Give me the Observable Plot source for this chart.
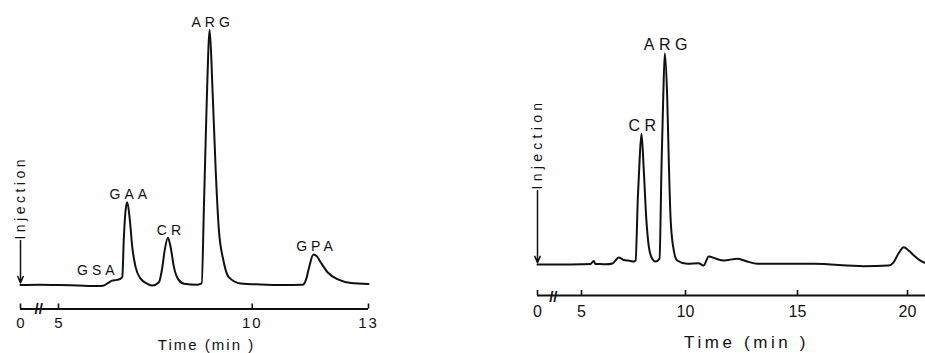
<!DOCTYPE html>
<html>
<head>
<meta charset="utf-8">
<script src="https://cdn.jsdelivr.net/npm/d3@7"></script>
<script src="https://cdn.jsdelivr.net/npm/@observablehq/plot@0.6"></script>
<style>
  html, body { margin: 0; padding: 0; background: #fff; }
  #wrap { position: relative; width: 925px; height: 353px; overflow: hidden; background: #fff; }
  #left { position: absolute; left: 0; top: 0; }
  #right { position: absolute; left: 520px; top: 0; }
  svg { font-family: "Liberation Sans", Arial, Helvetica, sans-serif; }
</style>
</head>
<body>
<div id="wrap"><div id="left"></div><div id="right"></div></div>
<script>
// ---------- Left chromatogram (standards) ----------
const leftTime = [0, 2.5, 5.0, 5.5, 6.0, 6.15, 6.3, 6.38, 6.5, 6.58, 6.646, 6.687, 6.731, 6.775, 6.842, 6.904, 6.99, 7.119, 7.292, 7.421,
  7.592, 7.68, 7.739, 7.824, 7.894, 7.979, 8.083, 8.238, 8.584, 8.695, 8.755, 8.824, 8.902, 8.972, 9.057, 9.134, 9.256, 9.393, 9.703,
  10.22, 10.74, 11.30, 11.39, 11.46, 11.58, 11.67, 11.77, 11.95, 12.21, 12.55, 13.0];
const leftSignal = [0, 0.1, 0, -0.2, -0.4, -0.3, 1.0, 1.7, 2.0, 2.3, 3.1, 18.7, 29.2, 32.4, 25.3, 14.8, 7.0, 2.5, 0.5, -0.2,
  1.1, 7.0, 13.5, 18.5, 14.8, 7.0, 2.4, 0.5, 0.1, 0.6, 31.9, 71.1, 100, 77.5, 44.9, 22.5, 9.6, 3.1, 0.6,
  0.2, 0, 0.1, 2.2, 6.5, 12.0, 11.2, 8.8, 4.9, 2.2, 0.8, 0.4];
const leftPeakNames = ["GAA", "CR", "ARG", "GPA"];
const leftPeakTimes = [6.775, 7.824, 8.902, 11.58];
const leftPeakHeights = [32.4, 18.5, 100, 12.0];
const leftShoulderName = ["GSA"];
const leftShoulderTime = [6.5];
const leftShoulderHeight = [2.0];
const leftTicks = [0, 5, 10, 13];
const leftBreak = [2.4];

// ---------- Right chromatogram (sample) ----------
const rightTime = [0, 2.5, 5.0, 5.43, 5.59, 5.67, 5.91, 6.15, 6.49, 6.79, 6.92, 7.03, 7.36, 7.51, 7.6, 7.71, 7.80, 7.885, 7.995, 8.11,
  8.24, 8.40, 8.56, 8.75, 8.85, 8.93, 9.005, 9.12, 9.20, 9.28, 9.41, 9.60, 10.08, 10.59, 10.80, 11.04, 11.34, 11.71, 12.31, 12.68,
  13.21, 15.74, 18.01, 19.14, 19.36, 19.59, 19.83, 20.05, 20.29, 20.55, 20.82];
const rightSignal = [0, 0, 0.1, 0.2, 1.7, 0.2, 0.2, 0.1, 0.5, 3.3, 2.8, 2.1, 1.7, 1.4, 1.9, 31.9, 50.8, 61.9, 44.5, 22.4,
  8.2, 2.7, 1.4, 2.8, 47.8, 79.2, 100, 79.2, 47.8, 22.4, 8.2, 1.9, 0.3, 0.6, -0.5, 3.8, 2.8, 1.9, 2.7, 1.7,
  0.3, 0.3, -0.8, -0.5, 0.9, 5.2, 8.2, 6.6, 4.3, 2.1, 0.6];
const rightPeakNames = ["CR", "ARG"];
const rightPeakTimes = [7.885, 9.005];
const rightPeakHeights = [61.9, 100];
const rightTicks = [0, 5, 10, 15, 20];
const rightBreak = [1.8];

const injectionTime = 0;
const axisTitle = "Time (min )";
const injectionText = "Injection";

const INK = "#111";
const FONT = '"Liberation Sans", Arial, Helvetica, sans-serif';

function chrom(opts) {
  const {times, signal, names, ptimes, pheights, ticks, breaks, width, marginLeft, marginRight,
    marginBottom, timeMap, yDomain, pxPerUnit, injTop, labelSize, tickSize, tickPadding,
    titleSize, titleDx, titleDy, breakDy, xEnd, extra} = opts;
  const axisY = yDomain[0];
  return Plot.plot({
    width, height: 353,
    marginLeft, marginRight, marginTop: 20, marginBottom,
    x: {transform: timeMap, domain: [0, width], range: [0, width], axis: null},
    y: {domain: yDomain, axis: null},
    style: {fontFamily: FONT, color: INK, background: "transparent", overflow: "visible"},
    marks: [
      Plot.ruleY([axisY], {x1: 0, x2: xEnd, stroke: INK, strokeWidth: 2.2}),
      Plot.ruleX(ticks, {y1: axisY, y2: axisY + 5 / pxPerUnit, stroke: INK, strokeWidth: 1.6}),
      Plot.text(ticks, {x: d => d, y: axisY, text: d => String(d), lineAnchor: "top", dy: tickPadding,
        fontSize: tickSize, fill: INK}),
      Plot.text(breaks, {x: d => d, y: axisY, text: () => "//", fontSize: 15, fontWeight: "bold",
        lineAnchor: "middle", dy: breakDy, fill: INK}),
      Plot.text([axisTitle], {frameAnchor: "bottom", text: d => d, fontSize: titleSize, lineAnchor: "middle",
        dx: titleDx, dy: titleDy, fill: INK}),
      Plot.line(times, {x: times, y: signal, curve: "monotone-x", stroke: INK, strokeWidth: 2,
        strokeLinejoin: "round"}),
      Plot.arrow([injectionTime], {x1: d => d, x2: d => d, y1: injTop, y2: 0.8, stroke: INK,
        strokeWidth: 1.5, headLength: 7, headAngle: 45}),
      Plot.text([injectionText], {x: injectionTime, y: injTop, text: d => d, rotate: -90, textAnchor: "start",
        lineAnchor: "middle", fontSize: 14, dy: -1, fill: INK}),
      Plot.text(names, {x: (d, i) => ptimes[i], y: (d, i) => pheights[i], text: d => d, lineAnchor: "bottom",
        dy: -3, dx: 3, fontSize: labelSize, fill: INK}),
      ...(extra || [])
    ]
  });
}

// letter spacing applied after rendering, keyed by each text's content
function spaceText(svg, rules) {
  svg.querySelectorAll("text").forEach(t => {
    const s = t.textContent;
    for (const [test, sp] of rules) {
      if (test(s)) { t.style.letterSpacing = sp + "px"; break; }
    }
  });
}

const leftPx = 2.552;
const left = chrom({
  times: leftTime, signal: leftSignal, names: leftPeakNames, ptimes: leftPeakTimes, pheights: leftPeakHeights,
  ticks: leftTicks, breaks: leftBreak, width: 380, marginLeft: 20, marginRight: 12, marginBottom: 44.5,
  timeMap: d3.scaleLinear().domain([0, 5, 13]).range([20, 58, 368]),
  yDomain: [-24 / leftPx, 264.5 / leftPx], pxPerUnit: leftPx, injTop: 17.4,
  labelSize: 14, tickSize: 15, tickPadding: 8, titleSize: 15, titleDx: 12, titleDy: 36, breakDy: 0, xEnd: 13,
  extra: [
    Plot.text(leftShoulderName, {x: (d, i) => leftShoulderTime[i], y: (d, i) => leftShoulderHeight[i], text: d => d,
      textAnchor: "end", lineAnchor: "bottom", dy: -5, dx: 2, fontSize: 14, fill: INK})
  ]
});
spaceText(left, [
  [s => leftPeakNames.includes(s) || leftShoulderName.includes(s), 4],
  [s => s === injectionText, 3.5],
  [s => s === axisTitle, 2],
  [s => s.length === 2 && /^\d+$/.test(s), 2]
]);
document.getElementById("left").appendChild(left);

const rightPx = 2.113;
const right = chrom({
  times: rightTime, signal: rightSignal, names: rightPeakNames, ptimes: rightPeakTimes, pheights: rightPeakHeights,
  ticks: rightTicks, breaks: rightBreak, width: 405, marginLeft: 17, marginRight: 0, marginBottom: 58,
  timeMap: d3.scaleLinear().domain([0, 5, 10, 15, 20, 21]).range([17, 61, 165, 277, 387, 409]),
  yDomain: [-31 / rightPx, 244 / rightPx], pxPerUnit: rightPx, injTop: 35.0,
  labelSize: 16, tickSize: 16, tickPadding: 10, titleSize: 17, titleDx: 15, titleDy: 47, breakDy: 2, xEnd: 20.9
});
spaceText(right, [
  [s => rightPeakNames.includes(s), 4.5],
  [s => s === injectionText, 4.3],
  [s => s === axisTitle, 3.6]
]);
document.getElementById("right").appendChild(right);
</script>
</body>
</html>
